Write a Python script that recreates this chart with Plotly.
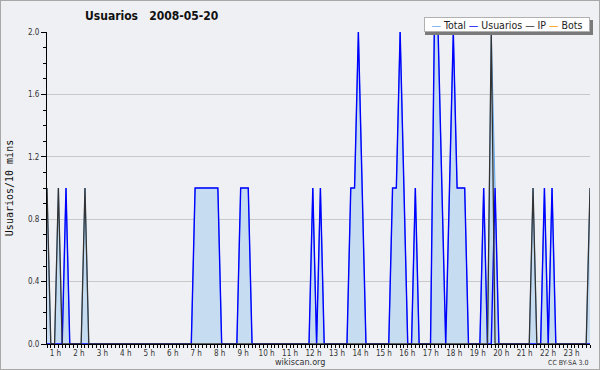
import plotly.graph_objects as go

# ---- data: one value per 10-minute slot (6 slots per hour, 24 hours) ----
hour_labels = [f"{h} h" for h in range(1, 24)]

usuarios = [
    0, 0, 0, 0, 0, 1,   # 0 h
    0, 0, 0, 0, 0, 0,   # 1 h
    0, 0, 0, 0, 0, 0,   # 2 h
    0, 0, 0, 0, 0, 0,   # 3 h
    0, 0, 0, 0, 0, 0,   # 4 h
    0, 0, 0, 0, 0, 0,   # 5 h
    0, 0, 0, 1, 1, 1,   # 6 h
    1, 1, 1, 1, 0, 0,   # 7 h
    0, 0, 0, 1, 1, 1,   # 8 h
    0, 0, 0, 0, 0, 0,   # 9 h
    0, 0, 0, 0, 0, 0,   # 10 h
    0, 0, 0, 0, 1, 0,   # 11 h
    1, 0, 0, 0, 0, 0,   # 12 h
    0, 0, 1, 1, 2, 1,   # 13 h
    0, 0, 0, 0, 0, 0,   # 14 h
    0, 1, 1, 2, 1, 0,   # 15 h
    0, 1, 0, 0, 0, 0,   # 16 h
    2, 2, 1, 0, 1, 2,   # 17 h
    1, 1, 1, 0, 0, 0,   # 18 h
    0, 1, 0, 0, 1, 0,   # 19 h
    0, 0, 0, 0, 0, 0,   # 20 h
    0, 0, 0, 0, 0, 1,   # 21 h
    0, 1, 0, 0, 0, 0,   # 22 h
    0, 0, 0, 0, 0, 0,   # 23 h
]

ip = [
    1, 0, 0, 1, 0, 0,   # 0 h
    0, 0, 0, 0, 1, 0,   # 1 h
    0, 0, 0, 0, 0, 0,   # 2 h
    0, 0, 0, 0, 0, 0,   # 3 h
    0, 0, 0, 0, 0, 0,   # 4 h
    0, 0, 0, 0, 0, 0,   # 5 h
    0, 0, 0, 0, 0, 0,   # 6 h
    0, 0, 0, 0, 0, 0,   # 7 h
    0, 0, 0, 0, 0, 0,   # 8 h
    0, 0, 0, 0, 0, 0,   # 9 h
    0, 0, 0, 0, 0, 0,   # 10 h
    0, 0, 0, 0, 0, 0,   # 11 h
    0, 0, 0, 0, 0, 0,   # 12 h
    0, 0, 0, 0, 0, 0,   # 13 h
    0, 0, 0, 0, 0, 0,   # 14 h
    0, 0, 0, 0, 0, 0,   # 15 h
    0, 0, 0, 0, 0, 0,   # 16 h
    0, 0, 0, 0, 0, 0,   # 17 h
    0, 0, 0, 0, 0, 0,   # 18 h
    0, 0, 0, 2, 0, 0,   # 19 h
    0, 0, 0, 0, 0, 0,   # 20 h
    0, 0, 1, 0, 0, 0,   # 21 h
    0, 0, 0, 0, 0, 0,   # 22 h
    0, 0, 0, 0, 0, 1,   # 23 h
]

total = [
    1, 0, 0, 1, 0, 1,   # 0 h
    0, 0, 0, 0, 1, 0,   # 1 h
    0, 0, 0, 0, 0, 0,   # 2 h
    0, 0, 0, 0, 0, 0,   # 3 h
    0, 0, 0, 0, 0, 0,   # 4 h
    0, 0, 0, 0, 0, 0,   # 5 h
    0, 0, 0, 1, 1, 1,   # 6 h
    1, 1, 1, 1, 0, 0,   # 7 h
    0, 0, 0, 1, 1, 1,   # 8 h
    0, 0, 0, 0, 0, 0,   # 9 h
    0, 0, 0, 0, 0, 0,   # 10 h
    0, 0, 0, 0, 1, 0,   # 11 h
    1, 0, 0, 0, 0, 0,   # 12 h
    0, 0, 1, 1, 2, 1,   # 13 h
    0, 0, 0, 0, 0, 0,   # 14 h
    0, 1, 1, 2, 1, 0,   # 15 h
    0, 1, 0, 0, 0, 0,   # 16 h
    2, 2, 1, 0, 1, 2,   # 17 h
    1, 1, 1, 0, 0, 0,   # 18 h
    0, 1, 0, 2, 1, 0,   # 19 h
    0, 0, 0, 0, 0, 0,   # 20 h
    0, 0, 1, 0, 0, 1,   # 21 h
    0, 1, 0, 0, 0, 0,   # 22 h
    0, 0, 0, 0, 0, 1,   # 23 h
]

bots = [0] * 144

slots_per_hour = 6
x_hours = [i / slots_per_hour for i in range(len(total))]

# ---- styling ----
COND = "DejaVu Sans Condensed, DejaVu Sans, sans-serif"
MONO = "DejaVu Sans Mono, monospace"
BG = "#eff0f3"
series_style = {
    "Total": "#5fa8ee",
    "Usuarios": "#0000ff",
    "IP": "#333333",
    "Bots": "#ff9900",
}

fig = go.Figure()
fig.add_trace(go.Scatter(x=x_hours, y=bots, mode="lines", name="Bots",
                         line=dict(color=series_style["Bots"], width=1)))
fig.add_trace(go.Scatter(x=x_hours, y=total, mode="lines", name="Total",
                         fill="tozeroy", fillcolor="#c6ddf1",
                         line=dict(color=series_style["Total"], width=1)))
fig.add_trace(go.Scatter(x=x_hours, y=usuarios, mode="lines", name="Usuarios",
                         line=dict(color=series_style["Usuarios"], width=1.4)))
fig.add_trace(go.Scatter(x=x_hours, y=ip, mode="lines", name="IP",
                         line=dict(color=series_style["IP"], width=1.3)))

# plot area: x 47..590 px, y 32..344 px
L, R, T, B = 47, 10, 32, 26
W, H = 600, 370
pw, ph = W - L - R, H - T - B
x_max = (len(total) - 1) / slots_per_hour
px_per_hour = pw / x_max
# hour labels sit at their own pixel spacing in the original chart
label_pos = [(32 + 23.46 * k - L) / px_per_hour for k in range(1, 24)]


def px_x(px):
    return (px - L) / pw


def px_y(py):
    return (H - B - py) / ph


fig.update_layout(
    width=W, height=H,
    margin=dict(l=L, r=R, t=T, b=B, pad=0, autoexpand=False),
    paper_bgcolor=BG, plot_bgcolor=BG,
    showlegend=False,
    title=dict(text="Usuarios\u00a0\u00a0\u00a02008-05-20",
               font=dict(family=COND, size=12, color="#111111", weight="bold"),
               x=85 / W, xanchor="left", xref="container",
               y=1 - 16 / H, yanchor="middle", yref="container"),
    xaxis=dict(range=[0, x_max], showgrid=False, zeroline=False,
               showline=True, linecolor="black", linewidth=1,
               tickmode="array", tickvals=label_pos, ticktext=hour_labels,
               ticks="outside", ticklen=1, tickcolor="rgba(0,0,0,0)",
               tickfont=dict(family=COND, size=8, color="#333333"),
               minor=dict(ticks="outside", ticklen=3, tickcolor="black",
                          tickmode="linear", tick0=0, dtick=1 / slots_per_hour,
                          showgrid=False)),
    yaxis=dict(range=[0, 2], zeroline=False,
               showline=True, linecolor="black", linewidth=1,
               tickmode="array", tickvals=[0, 0.4, 0.8, 1.2, 1.6, 2.0],
               tickformat=".1f", ticks="outside", ticklen=5, tickcolor="black",
               tickfont=dict(family=COND, size=8, color="#333333"),
               showgrid=True, gridcolor="#c9c9c9", gridwidth=1,
               minor=dict(ticks="outside", ticklen=3, tickcolor="black",
                          tickmode="linear", tick0=0, dtick=0.1, showgrid=False),
               title=dict(text="Usuarios/10 mins",
                          font=dict(family=MONO, size=10, color="#111111"),
                          standoff=12)),
)

# legend box (compact, jpgraph style) with drop shadow
legend_text = "\u00a0".join(
    f'<span style="color:{col}">—</span>\u00a0{name}'
    for name, col in series_style.items()
)
fig.add_shape(type="rect", xref="paper", yref="paper",
              x0=px_x(425), x1=px_x(593), y0=px_y(35), y1=px_y(20),
              line=dict(width=0), fillcolor="#7a7a7a", layer="above")
fig.add_annotation(
    text=legend_text, xref="paper", yref="paper",
    x=1, y=px_y(17), xanchor="right", yanchor="top", showarrow=False,
    width=164, height=13, align="center", valign="middle",
    font=dict(family=COND, size=10.5, color="#222222"),
    bgcolor="white", bordercolor="#b0b0b0", borderwidth=1, borderpad=0,
)

fig.add_annotation(text="wikiscan.org", xref="paper", yref="paper",
                   x=px_x(300), y=px_y(362),
                   xanchor="center", yanchor="middle", showarrow=False,
                   font=dict(family=COND, size=9, color="#333333"))
fig.add_annotation(text="CC BY-SA 3.0", xref="paper", yref="paper",
                   x=1, y=px_y(363),
                   xanchor="right", yanchor="middle", showarrow=False,
                   font=dict(family=COND, size=7, color="#333333"))

# outer frame of the image
fig.add_shape(type="rect", xref="paper", yref="paper",
              x0=px_x(0), x1=px_x(W), y0=px_y(H), y1=px_y(0),
              line=dict(color="#a8a8a8", width=2), fillcolor="rgba(0,0,0,0)",
              layer="below")

fig.write_html("out.html",
               config={"displayModeBar": False},
               post_script="document.body.style.margin='0';"
                           "document.body.style.overflow='hidden';")
